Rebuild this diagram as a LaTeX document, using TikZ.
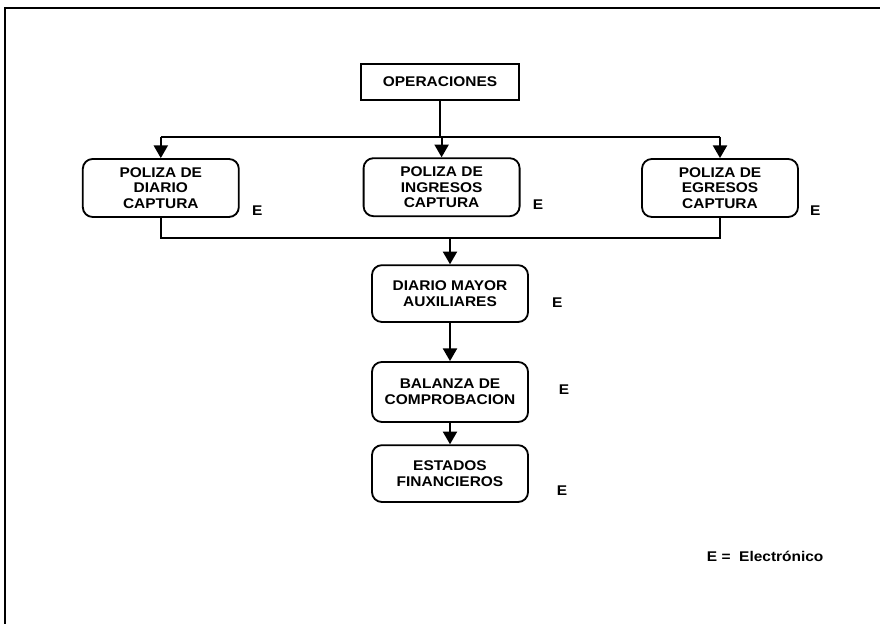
\documentclass[tikz,border=0pt]{standalone}
\usepackage{fontspec}
\setmainfont{Liberation Sans}[FakeStretch=1.1]
\usepackage{tikz}
\usetikzlibrary{arrows.meta}
\tikzset{
  cuadro/.style={draw, line width=1.3pt, rounded corners=7pt, minimum width=3.9cm,
    minimum height=1.45cm, align=center, font=\bfseries\fontsize{10}{11.2}\selectfont},
  marca/.style={font=\bfseries\fontsize{10}{12}\selectfont},
  flujo/.style={line width=1.3pt}
}

\begin{document}
\begin{tikzpicture}[>={Triangle[width=10pt,length=9pt]}]
  \useasboundingbox (0,0) rectangle (22,15.6);
  \draw[line width=1.3pt] (22,15.4) -- (0.125,15.4) -- (0.125,0);

  \node[cuadro, rounded corners=0pt, line width=1.5pt, minimum width=3.95cm, minimum height=0.9cm] (ops) at (11.0,13.55) {OPERACIONES};
  \node[cuadro] (pd) at (4.02,10.9) {POLIZA DE\\DIARIO\\CAPTURA};
  \node[cuadro] (pi) at (11.04,10.92) {POLIZA DE\\INGRESOS\\CAPTURA};
  \node[cuadro] (pe) at (18.0,10.9) {POLIZA DE\\EGRESOS\\CAPTURA};
  \node[cuadro, minimum height=1.42cm] (dm) at (11.25,8.26) {DIARIO MAYOR\\AUXILIARES};
  \node[cuadro, minimum height=1.5cm] (bc) at (11.25,5.8) {BALANZA DE\\COMPROBACION};
  \node[cuadro, minimum height=1.42cm] (ef) at (11.25,3.76) {ESTADOS\\FINANCIEROS};

  \node[marca] (eD) at (6.43,10.33) {E};
  \node[marca] (eI) at (13.45,10.48) {E};
  \node[marca] (eE) at (20.38,10.33) {E};
  \node[marca] (eM) at (13.93,8.03) {E};
  \node[marca] (eB) at (14.1,5.85) {E};
  \node[marca] (eF) at (14.05,3.33) {E};
  \node[marca] (ley) at (19.13,1.68) {E =\ \ Electrónico};

  \coordinate (busA) at (0,12.175);
  \coordinate (busB) at (0,9.65);
  \draw[flujo] (ops.south) -- (ops.south |- busA);
  \draw[flujo] (pd.north |- busA) -- (pe.north |- busA);
  \draw[flujo,->] (pd.north |- busA) -- (pd.north);
  \draw[flujo,->] (pi.north |- busA) -- (pi.north);
  \draw[flujo,->] (pe.north |- busA) -- (pe.north);
  \draw[flujo] (pd.south) -- (pd.south |- busB) -- (pe.south |- busB) -- (pe.south);
  \draw[flujo,->] (dm.north |- busB) -- (dm.north);
  \draw[flujo,->] (dm.south) -- (bc.north);
  \draw[flujo,->] (bc.south) -- (ef.north);
\end{tikzpicture}
\end{document}
